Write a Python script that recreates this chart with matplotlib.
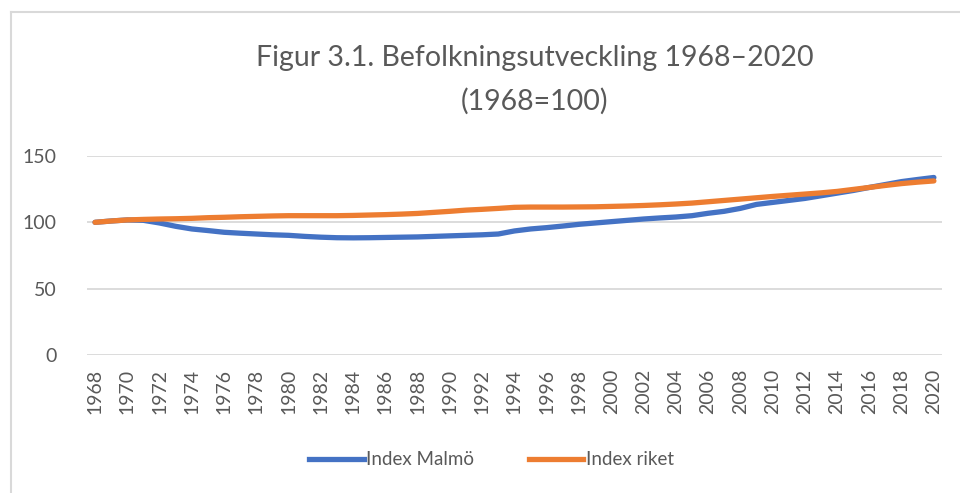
"""Figur 3.1: befolkningsutveckling Malmö och riket 1968-2020 (index 1968=100)."""

import matplotlib

matplotlib.use("Agg")
import matplotlib.pyplot as plt
from matplotlib.lines import Line2D

years = list(range(1968, 2021))

index_malmo = [
    100.0, 101.0, 101.8, 101.5, 99.5, 97.0, 95.0, 93.8, 92.5, 91.8,
    91.2, 90.6, 90.2, 89.4, 88.8, 88.4, 88.3, 88.4, 88.6, 88.8,
    89.0, 89.4, 89.8, 90.2, 90.6, 91.2, 93.5, 95.0, 96.0, 97.2,
    98.5, 99.5, 100.5, 101.5, 102.5, 103.3, 104.0, 105.0, 106.8, 108.3,
    110.5, 113.5, 115.0, 116.5, 118.0, 120.0, 122.0, 124.0, 126.3, 128.5,
    130.7, 132.3, 133.8,
]

index_riket = [
    100.0, 101.0, 101.8, 102.2, 102.5, 102.7, 103.0, 103.5, 103.8, 104.2,
    104.5, 104.8, 105.0, 105.0, 105.0, 105.0, 105.2, 105.5, 105.8, 106.2,
    106.7, 107.5, 108.3, 109.2, 109.8, 110.5, 111.3, 111.5, 111.5, 111.5,
    111.6, 111.7, 112.0, 112.3, 112.7, 113.2, 113.8, 114.5, 115.5, 116.5,
    117.5, 118.5, 119.5, 120.4, 121.3, 122.2, 123.3, 124.8, 126.3, 127.8,
    129.2, 130.3, 131.2,
]

series_labels = ["Index Malmö", "Index riket"]
y_ticks = [0, 50, 100, 150]
title = "Figur 3.1. Befolkningsutveckling 1968–2020\n(1968=100)"

BLUE = "#4472C4"
ORANGE = "#ED7D31"
TEXT = "#595959"
GRID = "#D9D9D9"

plt.rcParams["font.family"] = ["Lato", "DejaVu Sans"]

fig = plt.figure(figsize=(9.6, 4.93), dpi=100)
ax = fig.add_axes([0.0906, 0.2799, 0.8906, 0.4037])

ax.plot(years, index_malmo, color=BLUE, lw=3.8, solid_capstyle="round")
ax.plot(years, index_riket, color=ORANGE, lw=3.8, solid_capstyle="round")

ax.set_xlim(1967.5, 2020.5)
ax.set_ylim(0, 150)
ax.set_yticks(y_ticks)
ax.set_xticks(years[::2])
ax.set_xticklabels([str(y) for y in years[::2]], rotation=90)
ax.tick_params(axis="both", length=0, colors=TEXT, labelsize=14)
ax.tick_params(axis="y", pad=22)
ax.tick_params(axis="x", pad=10)
ax.grid(axis="y", color=GRID, lw=1.3)
ax.set_axisbelow(True)
for s in ax.spines.values():
    s.set_visible(False)

fig.text(0.557, 0.838, title, ha="center", va="center", fontsize=20.5,
         color=TEXT, linespacing=1.78)

handles = [Line2D([], [], color=BLUE, lw=3.8), Line2D([], [], color=ORANGE, lw=3.8)]
fig.legend(handles, series_labels, loc="center", bbox_to_anchor=(0.512, 0.067),
           ncol=2, frameon=False, fontsize=13.5, labelcolor=TEXT,
           handlelength=2.9, handletextpad=0.15, columnspacing=2.9)

# ram runt diagramytan (syns bara till vänster och upptill)
fig.add_artist(Line2D([11 / 960, 11 / 960], [0, 1 - 12 / 493], color=GRID, lw=1.5,
                      transform=fig.transFigure))
fig.add_artist(Line2D([11 / 960, 1], [1 - 12 / 493, 1 - 12 / 493], color=GRID, lw=1.5,
                      transform=fig.transFigure))

fig.savefig("out.png", dpi=100, facecolor="white")
